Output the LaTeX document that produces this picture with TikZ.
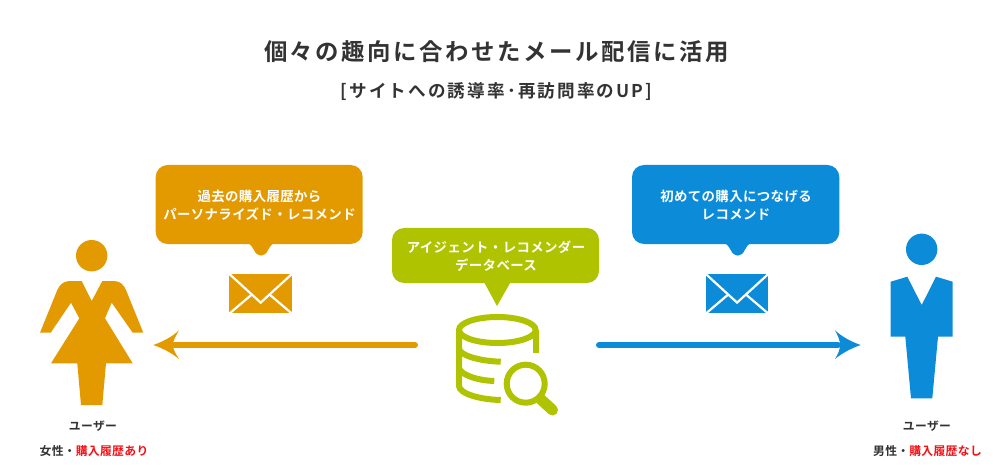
\documentclass[tikz,border=0pt]{standalone}
\usepackage{fontspec}
\setmainfont{Noto Sans CJK JP}[BoldFont={Noto Sans CJK JP Bold}]
\newfontfamily\ttlfont{Noto Sans CJK JP Bold}[LetterSpace=11]
\newfontfamily\subfont{Noto Sans CJK JP Bold}[LetterSpace=12]
\newfontfamily\lblfont{Noto Sans CJK JP Bold}[LetterSpace=3]
\definecolor{orangeC}{HTML}{E39A00}
\definecolor{blueC}{HTML}{0C8BD8}
\definecolor{greenC}{HTML}{AFC300}
\definecolor{txtC}{HTML}{333333}
\definecolor{redC}{HTML}{F50F14}
\tikzset{
  bubbletext/.style={text=white,font=\lblfont\fontsize{13.4}{17.8}\selectfont,align=center,inner sep=0},
  usertext/.style={text=txtC,font=\lblfont\fontsize{11.8}{14}\selectfont,inner sep=0},
  envwhite/.style={draw=white,line width=2.2pt,line join=miter},
  flow/.style={line width=6pt,line cap=round}
}
\newcommand{\bubble}[4]{% x0 x1 color pointerx
  \fill[#3,rounded corners=12pt] (#1,165) rectangle (#2,244);
  \fill[#3] (#4-14,243) .. controls (#4-10,244) and (#4-9,247) .. (#4-7,250)
     .. controls (#4-4,257.5) and (#4+4,257.5) .. (#4+7,250)
     .. controls (#4+9,247) and (#4+10,244) .. (#4+14,243) -- cycle;
}
\newcommand{\envelope}[2]{% left x, color
  \begin{scope}[shift={(#1,274)}]
    \fill[#2] (0,0) rectangle (62.7,39.3);
    \draw[envwhite] (-1,-1) -- (31.35,28.6) -- (63.7,-1);
    \draw[envwhite] (-1,40.5) -- (22.5,20.5);
    \draw[envwhite] (63.7,40.5) -- (40.2,20.5);
  \end{scope}
}
\begin{document}
\begin{tikzpicture}[x=1pt,y=-1pt]
\useasboundingbox (0,0) rectangle (993,473);
% titles
\node[text=txtC,font=\ttlfont\fontsize{23.4}{26}\selectfont,inner sep=0] (title) at (496.5,52) {個々の趣向に合わせたメール配信に活用};
\node[text=txtC,font=\subfont\fontsize{17.6}{20}\selectfont,inner sep=0] (subtitle) at (496.5,91.5) {[サイトへの誘導率･再訪問率のUP]};
% female
\fill[orangeC] (91.7,255.7) circle (15.7);
\fill[orangeC] (81.7,281) -- (91.7,301) -- (102.3,281) -- (114,281)
  .. controls (120,281) and (124,285) .. (126,290) -- (143.3,332.7) -- (132.7,332.7)
  -- (111.7,302.7) -- (105,318.3) -- (132.7,363.3) -- (106,363.3) -- (102.3,405) -- (81,405)
  -- (77.3,363.3) -- (51,363.3) -- (79.3,318.3) -- (71,302.7) -- (50.7,332.7) -- (40,332.7)
  -- (57.3,290) .. controls (59.5,285) and (63.5,281) .. (69.5,281) -- cycle;
% male
\fill[blueC] (921.7,249.3) circle (15.7);
\fill[blueC] (907.3,276.7) -- (921.7,305) -- (936,276.7) -- (952.7,281.7) -- (952.7,336.7)
  -- (938,336.7) -- (932.3,398.3) -- (911,398.3) -- (905.3,336.7) -- (890.7,336.7) -- (890.7,281.7) -- cycle;
% bubbles
\bubble{155.7}{362.7}{orangeC}{261}
\bubble{632}{839.3}{blueC}{737.7}
\fill[greenC,rounded corners=12pt] (392,228) rectangle (599,283);
\fill[greenC] (484,282) -- (497,306) -- (510.7,282) -- cycle;
\node[bubbletext] (t1) at (259.5,205) {過去の購入履歴から\\パーソナライズド・レコメンド};
\node[bubbletext] (t2) at (736,205) {初めての購入につなげる\\レコメンド};
\node[bubbletext] (t3) at (496,256) {アイジェント・レコメンダー\\データベース};
% envelopes
\envelope{229.3}{orangeC}
\envelope{705.7}{blueC}
% arrows
\coordinate (dbL) at (415,345);
\coordinate (dbR) at (599,345);
\coordinate (fem) at (174,345);
\coordinate (mal) at (838,345);
\draw[flow,orangeC] (dbL) -- (fem);
\fill[orangeC] (153.3,345) .. controls (162,342) and (172,337) .. (179,330.3)
  .. controls (176,336) and (173,340) .. (173,345) .. controls (173,350) and (176,354) .. (179,359)
  .. controls (172,353) and (162,348) .. (153.3,345) -- cycle;
\draw[flow,blueC] (dbR) -- (mal);
\fill[blueC] (860.7,345) .. controls (852,348) and (842,353) .. (835,359)
  .. controls (838,354) and (840,350) .. (840,345) .. controls (840,340) and (838,336) .. (835,330.3)
  .. controls (842,337) and (852,342) .. (860.7,345) -- cycle;
% database
\begin{scope}[draw=greenC,line width=6pt]
\draw[greenC] (497.3,330) ellipse [x radius=38.3,y radius=13];
\draw[greenC] (535.6,330) -- (535.6,352.5);
\draw[greenC] (459,330) -- (459,386) .. controls (459,393) and (478,399.5) .. (500.7,400);
\draw[greenC] (459,349) .. controls (460,355) and (478,361) .. (500.7,361.7);
\draw[greenC] (459,368) .. controls (460,374) and (476,380.5) .. (494.3,381);
\draw[greenC] (525.7,383.7) circle (19);
\draw[greenC,line width=11pt,line cap=round] (541,399.5) -- (552.5,410);
\end{scope}
% user labels
\node[usertext] (u1) at (93,426) {ユーザー};
\node[usertext] (u2) at (94,451) {女性・\textcolor{redC}{購入履歴あり}};
\node[usertext] (u3) at (927,426) {ユーザー};
\node[usertext] (u4) at (927.5,451) {男性・\textcolor{redC}{購入履歴なし}};
\end{tikzpicture}
\end{document}
